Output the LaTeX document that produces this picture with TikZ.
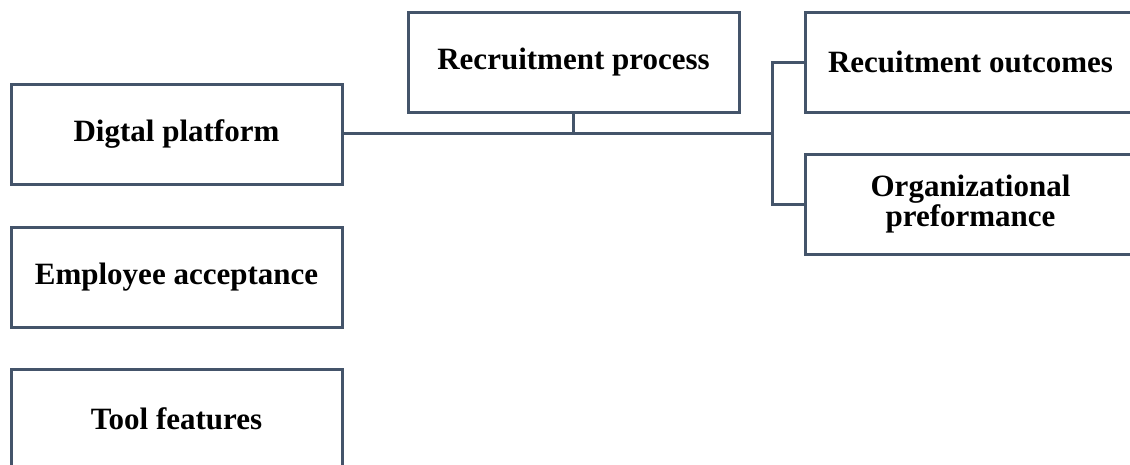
\documentclass[tikz,border=0pt]{standalone}
\usepackage{fontspec}
\setmainfont{Liberation Serif}
\definecolor{lineslate}{HTML}{44546A}
\begin{document}
\begin{tikzpicture}[x=1pt,y=-1pt,
  box/.style={draw=lineslate,line width=3pt,fill=white,minimum width=331pt,minimum height=100pt,
    inner sep=0pt,align=center,font=\fontsize{31}{30}\selectfont\bfseries,text=black},
  conn/.style={draw=lineslate,line width=3pt}]
\useasboundingbox (0,0) rectangle (1130,464);
\clip (0,0) rectangle (1130,464);
\node[box] (dp) at (176.5,134) {Digtal platform};
\node[box] (ea) at (176.5,277) {Employee acceptance};
\node[box] (tf) at (176.5,419) {Tool features};
\node[box] (rp) at (573.5,62) {Recruitment process};
\node[box] (ro) at (970.5,62) {Recuitment outcomes};
\node[box] (op) at (970.5,204) {Organizational\\preformance};
\coordinate (j) at (772,133);
\draw[conn] (dp.east |- j) -- (j);
\draw[conn] (rp.south) -- (rp.south |- j);
\draw[conn] (ro.west) -| (j) |- (op.west);
\end{tikzpicture}
\end{document}
